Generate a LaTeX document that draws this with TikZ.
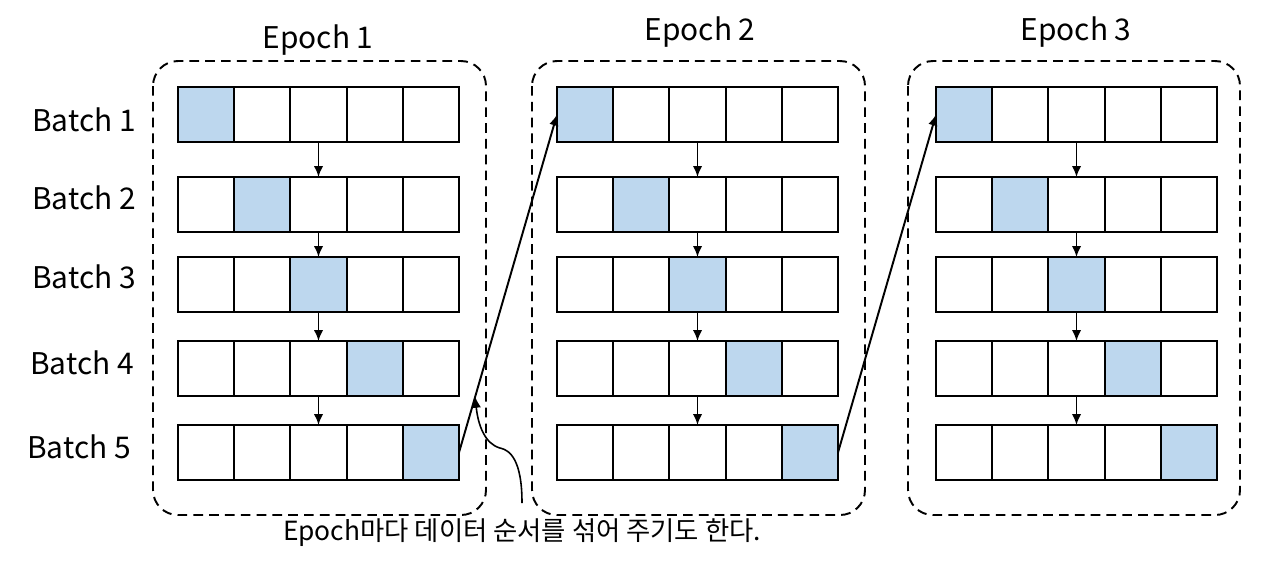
\documentclass[tikz,border=0pt]{standalone}
\usepackage{fontspec}
\setmainfont{Noto Sans CJK KR}
\usetikzlibrary{calc}
\usetikzlibrary{shapes,arrows.meta}

\definecolor{cellblue}{RGB}{189,215,238}
\tikzset{
  cell/.style={draw, line width=1.2pt, minimum width=1.124cm, minimum height=1.1cm,
    inner sep=0pt, outer sep=0pt, fill=white},
  pick/.style={cell, fill=cellblue},
  frame/.style={dashed, line width=1.1pt, dash pattern=on 5.5pt off 3.5pt, rounded corners=0.5cm},
  lbl/.style={font=\fontsize{17}{20}\selectfont},
  flow/.style={-{Latex[length=2.2mm,width=1.9mm]}, line width=1.1pt}
}

\begin{document}
\begin{tikzpicture}[x=0.02cm, y=-0.02cm]
\useasboundingbox (0,0) rectangle (1277,562);

% epoch frames and titles
\draw[frame] (153,61) rectangle (486,515);
\draw[frame] (532,61) rectangle (865,515);
\draw[frame] (908,61) rectangle (1240,515);
\node[lbl] (t1) at (318,40) {Epoch 1};
\node[lbl] (t2) at (700,32) {Epoch 2};
\node[lbl] (t3) at (1076,32) {Epoch 3};

% batch labels
\node[lbl] (b1) at (84,120) {Batch 1};
\node[lbl] (b2) at (84,198) {Batch 2};
\node[lbl] (b3) at (84,277) {Batch 3};
\node[lbl] (b4) at (82,363) {Batch 4};
\node[lbl] (b5) at (79,447) {Batch 5};

% cells: epoch e, batch b, column c
\foreach \e/\xo in {1/178, 2/557, 3/936} {
  \foreach \b/\yc in {1/114.5, 2/204.5, 3/284.5, 4/368.5, 5/452.5} {
    \foreach \c in {1,...,5} {
      \ifnum\c=\b
        \node[pick] (e\e b\b c\c) at ({\xo+(\c-0.5)*56.2},\yc) {};
      \else
        \node[cell] (e\e b\b c\c) at ({\xo+(\c-0.5)*56.2},\yc) {};
      \fi
    }
  }
}

% batch to batch arrows
\foreach \e in {1,2,3} {
  \foreach \b [evaluate=\b as \n using int(\b+1)] in {1,...,4} {
    \draw[flow] (e\e b\b c3.south) -- (e\e b\n c3.north);
  }
}

% epoch to epoch arrows
\draw[flow] (e1b5c5.east) -- coordinate[pos=0.165] (m1) (e2b1c1.west);
\draw[flow] (e2b5c5.east) -- (e3b1c1.west);

% note
\node[font=\fontsize{15}{18}\selectfont] (note) at (522,533) {Epoch마다 데이터 순서를 섞어 주기도 한다.};
\coordinate (n0) at (522,503);
\draw[flow, line width=0.9pt] (n0) .. controls (522,460) and (510,450) .. (500,448)
  .. controls (485,444) and (478,425) .. (m1);
\end{tikzpicture}
\end{document}
